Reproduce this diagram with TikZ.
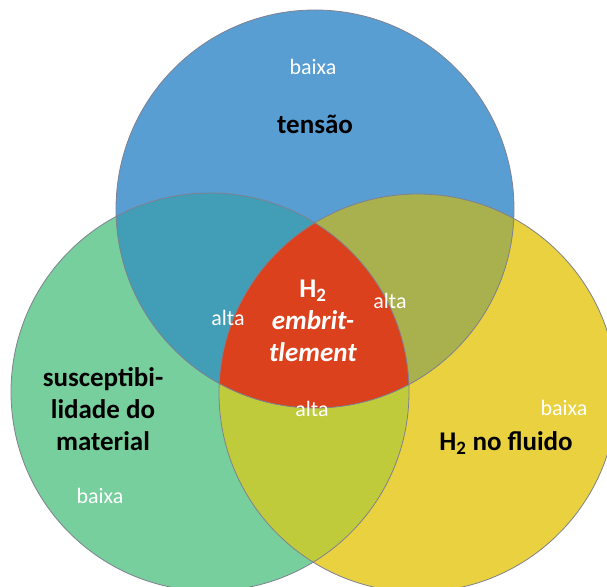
\documentclass[tikz,border=0pt]{standalone}
\usepackage{fontspec}
\setmainfont{Carlito}
\definecolor{tensaoblue}{HTML}{589ED3}
\definecolor{materialgreen}{HTML}{77CF9D}
\definecolor{fluidyellow}{HTML}{EAD140}
\definecolor{bluegreen}{HTML}{429DB6}
\definecolor{blueyellow}{HTML}{A9B04E}
\definecolor{greenyellow}{HTML}{C0CB3C}
\definecolor{corered}{HTML}{DC411E}
\definecolor{rimgray}{HTML}{7F8090}
\tikzset{
  rim/.style={draw=rimgray, line width=0.8pt},
  level/.style={text=white, font=\fontsize{22}{26}\selectfont},
  factor/.style={text=black, align=center, font=\fontsize{27}{32}\selectfont\bfseries},
}
\begin{document}
\begin{tikzpicture}[x=1pt,y=1pt]
    \useasboundingbox (0,0) rectangle (607,586);
    \clip (0,0) rectangle (607,586);
    \coordinate (T) at (315,377);
    \coordinate (M) at (210,194);
    \coordinate (F) at (418,193);
    % plain discs
    \fill[materialgreen] (M) circle (199pt);
    \fill[fluidyellow] (F) circle (199pt);
    \begin{scope}
      \clip (M) circle (199pt);
      \fill[greenyellow] (F) circle (199pt);
    \end{scope}
    \fill[tensaoblue] (T) circle (199pt);
    % overlaps with tensao
    \begin{scope}
      \clip (T) circle (199pt);
      \fill[bluegreen] (M) circle (199pt);
      \fill[blueyellow] (F) circle (199pt);
      \clip (M) circle (199pt);
      \fill[corered] (F) circle (199pt);
    \end{scope}
    \draw[rim] (T) circle (199pt);
    \draw[rim] (M) circle (199pt);
    \draw[rim] (F) circle (199pt);
    % labels
    \node[level] (baixaT) at (313,519) {baixa};
    \node[factor] (tensao) at (315,462) {tensão};
    \node[factor, text=white] (core) at (313,265) {H\textsubscript{2}\\\textit{embrit-}\\\textit{tlement}};
    \node[level] (altaTM) at (228,268) {alta};
    \node[level] (altaTF) at (390,285) {alta};
    \node[level] (altaMF) at (312,177) {alta};
    \node[factor] (suscept) at (103,177) {susceptibi-\\lidade do\\material};
    \node[level] (baixaM) at (100,90) {baixa};
    \node[factor] (fluido) at (506,143) {H\textsubscript{2} no fluido};
    \node[level] (baixaF) at (564,178) {baixa};
\end{tikzpicture}
\end{document}
